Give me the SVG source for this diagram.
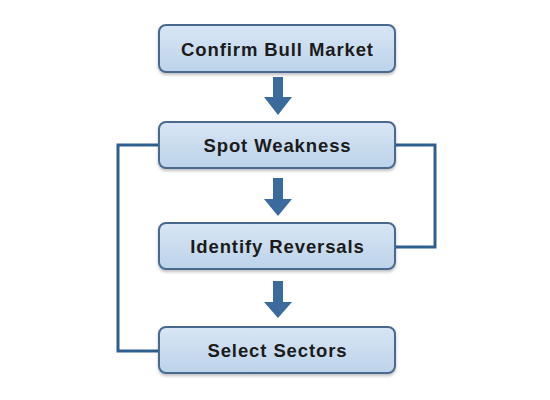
<svg xmlns="http://www.w3.org/2000/svg" width="550" height="400" viewBox="0 0 550 400">
<style>
.box{fill:url(#g);stroke:#4a6b8e;stroke-width:2;filter:url(#sh)}
.lbl{font-family:"Liberation Sans",Arial,sans-serif;font-weight:bold;font-size:18.5px;letter-spacing:0.9px;fill:#1b1b1b;text-anchor:middle;dominant-baseline:central}
.conn{fill:none;stroke:#2f5f8e;stroke-width:3}
.arr{fill:#3a6b9c}
</style>
<defs>
<linearGradient id="g" x1="0" y1="0" x2="0" y2="1">
<stop offset="0" stop-color="#d8e6f4"/>
<stop offset="1" stop-color="#bcd3ea"/>
</linearGradient>
<filter id="sh" x="-10%" y="-20%" width="120%" height="150%">
<feDropShadow dx="0" dy="2" stdDeviation="1.5" flood-color="#000" flood-opacity="0.25"/>
</filter>
</defs>
<rect width="550" height="400" fill="#ffffff"/>
<g id="connectors">
<polyline class="conn" points="159,145 118,145 118,351 159,351"/>
<polyline class="conn" points="395,145 435,145 435,247 395,247"/>
<polygon class="arr" points="273,77 283,77 283,97 292,97 278,115 264,97 273,97"/>
<polygon class="arr" points="273,178 283,178 283,199 292,199 278,216 264,199 273,199"/>
<polygon class="arr" points="273,281 283,281 283,302 292,302 278,318 264,302 273,302"/>
</g>
<g id="n1"><rect class="box" x="159" y="25" width="236" height="47" rx="7"/><text class="lbl" x="277.5" y="49">Confirm Bull Market</text></g>
<g id="n2"><rect class="box" x="159" y="122" width="236" height="46" rx="7"/><text class="lbl" x="277.5" y="145">Spot Weakness</text></g>
<g id="n3"><rect class="box" x="159" y="223" width="236" height="46" rx="7"/><text class="lbl" x="277.5" y="246">Identify Reversals</text></g>
<g id="n4"><rect class="box" x="159" y="327" width="236" height="46" rx="7"/><text class="lbl" x="277.5" y="350">Select Sectors</text></g>
</svg>
